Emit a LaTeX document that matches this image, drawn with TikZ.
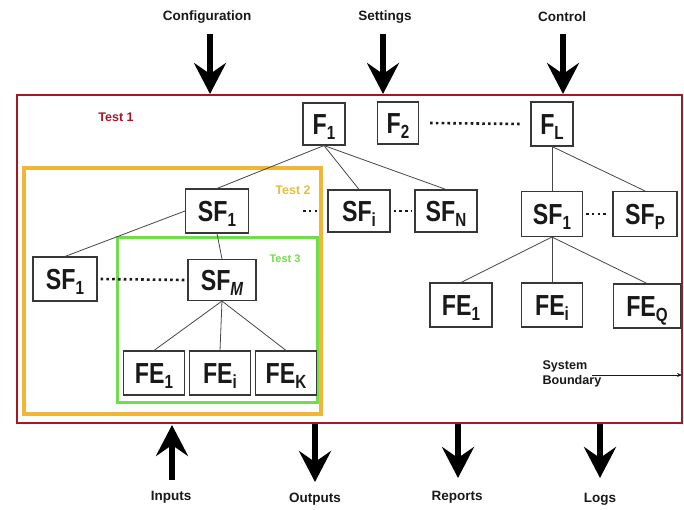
\documentclass[tikz,border=0pt]{standalone}
\usepackage{fontspec}
\setmainfont{Liberation Sans}
\newfontfamily\boxfont[FakeStretch=0.8]{Liberation Sans}
\usetikzlibrary{arrows.meta}

\definecolor{ink}{RGB}{25,25,25}
\definecolor{boxline}{RGB}{55,55,55}
\definecolor{linkgray}{RGB}{70,70,70}
\definecolor{sysred}{RGB}{168,22,36}
\definecolor{testorange}{RGB}{240,182,52}
\definecolor{testyellow}{RGB}{228,190,62}
\definecolor{testgreen}{RGB}{112,222,74}

% lowered index for the box labels
\newcommand\idx[1]{\raisebox{-5pt}{\fontsize{19}{19}\selectfont #1}}

\tikzset{
  fbox/.style={draw=boxline, line width=1.1pt, minimum height=42pt, inner sep=0pt,
    text height=21pt, text depth=0pt, text=ink,
    font=\boxfont\bfseries\fontsize{29}{29}\selectfont},
  link/.style={draw=linkgray, line width=0.8pt},
  dots/.style={draw=ink, line width=2.6pt, dash pattern=on 2.6pt off 3.2pt},
  bigarrow/.style={draw=black, line width=6.5pt,
    -{Stealth[length=31pt,width=32pt,inset=11pt]}},
  iolabel/.style={text=ink, font=\bfseries\fontsize{13.5}{14}\selectfont},
  testlabel/.style={font=\bfseries\fontsize{12.5}{13}\selectfont},
}

\begin{document}
\begin{tikzpicture}[x=1pt,y=-1pt]
\useasboundingbox (0,0) rectangle (684,510);

% system boundary and nested test scopes
\draw[sysred, line width=2.8pt] (17,95) rectangle (682,423);
\draw[testorange, line width=3.2pt] (24,168) rectangle (321,414);
\draw[testgreen, line width=3pt] (117,238) rectangle (317,402);

\node[testlabel, text=sysred] (t1) at (116,117) {Test 1};
\node[testlabel, text=testyellow] (t2) at (293,190) {Test 2};
\node[testlabel, text=testgreen, font=\bfseries\fontsize{11}{12}\selectfont] (t3) at (285,259) {Test 3};

% functions
\node[fbox, minimum width=42pt] (f1) at (324,124) {F\idx{1}};
\node[fbox, minimum width=41pt] (f2) at (398,123) {F\idx{2}};
\node[fbox, minimum width=42pt, minimum height=44pt] (fl) at (552,124) {F\idx{L}};

% sub-functions
\node[fbox, minimum width=63pt, minimum height=44pt] (sfa) at (217,211) {SF\idx{1}};
\node[fbox, minimum width=62pt] (sfi) at (359,211) {SF\idx{i}};
\node[fbox, minimum width=62pt] (sfn) at (446,211) {SF\idx{N}};
\node[fbox, minimum width=61pt, minimum height=45pt] (sfr) at (552,214) {SF\idx{1}};
\node[fbox, minimum width=64pt, minimum height=45pt] (sfp) at (645,214) {SF\idx{P}};
\node[fbox, minimum width=64pt, minimum height=44pt] (sfl) at (65,279) {SF\idx{1}};
\node[fbox, minimum width=68pt, minimum height=41pt] (sfm) at (222,280) {SF\idx{\itshape M}};

% functional elements
\node[fbox, minimum width=61pt, minimum height=44pt] (fea) at (154,373) {FE\idx{1}};
\node[fbox, minimum width=61pt, minimum height=44pt] (feb) at (220,373) {FE\idx{i}};
\node[fbox, minimum width=61pt, minimum height=44pt] (fec) at (286,373) {FE\idx{K}};
\node[fbox, minimum width=62pt, minimum height=44pt] (fra) at (461,305) {FE\idx{1}};
\node[fbox, minimum width=61pt, minimum height=44pt] (frb) at (552,305) {FE\idx{i}};
\node[fbox, minimum width=67pt, minimum height=44pt] (frc) at (647,306) {FE\idx{Q}};

% tree links
\draw[link] (f1.south) -- (sfa.north);
\draw[link] (f1.south) -- (sfi.north);
\draw[link] (f1.south) -- (sfn.north);
\draw[link] (fl.south) -- (sfr.north);
\draw[link] (fl.south) -- (sfp.north);
\draw[link] (sfa.west) -- (sfl.north);
\draw[link] (sfa.south) -- (sfm.north);
\draw[link] (sfm.south) -- (fea.north);
\draw[link] (sfm.south) -- (feb.north);
\draw[link] (sfm.south) -- (fec.north);
\draw[link] (sfr.south) -- (fra.north);
\draw[link] (sfr.south) -- (frb.north);
\draw[link] (sfr.south) -- (frc.north);

% elided siblings
\draw[dots] ([xshift=11pt]f2.east) -- ([xshift=-8pt]fl.west);
\draw[dots] ([xshift=54pt]sfa.east) -- ([xshift=-10pt]sfi.west);
\draw[dots] ([xshift=3pt]sfi.east) -- ([xshift=-2pt]sfn.west);
\draw[dots] ([xshift=3pt]sfr.east) -- ([xshift=-5pt]sfp.west);
\draw[dots] ([xshift=3pt]sfl.east) -- ([xshift=-3pt]sfm.west);

% system boundary callout
\node[text=ink, align=left, anchor=west, font=\bfseries\fontsize{12.6}{15.5}\selectfont]
  (sb) at (539,374) {System\\Boundary};
\coordinate (sbstart) at (592,375);
\coordinate (sbend) at (682,375);
\draw[ink, line width=0.9pt, -{Stealth[length=5pt,width=4pt]}] (sbstart) -- (sbend);

% external interfaces
\node[iolabel] (cfg) at (207,17) {Configuration};
\node[iolabel] (set) at (385,17) {Settings};
\node[iolabel] (ctl) at (562,17) {Control};
\node[iolabel] (inp) at (171,497) {Inputs};
\node[iolabel] (out) at (315,499) {Outputs};
\node[iolabel] (rep) at (457,497) {Reports};
\node[iolabel] (lgs) at (600,499) {Logs};

\coordinate (cfgtop) at (210,34);  \coordinate (cfgin) at (210,94);
\coordinate (settop) at (383,34);  \coordinate (setin) at (383,94);
\coordinate (ctltop) at (563,34);  \coordinate (ctlin) at (563,94);
\coordinate (inptail) at (172,480); \coordinate (inpin) at (172,425);
\coordinate (outsrc) at (315,424);  \coordinate (outtip) at (315,482);
\coordinate (repsrc) at (458,424);  \coordinate (reptip) at (458,478);
\coordinate (lgssrc) at (600,424);  \coordinate (lgstip) at (600,478);

\draw[bigarrow] (cfgtop) -- (cfgin);
\draw[bigarrow] (settop) -- (setin);
\draw[bigarrow] (ctltop) -- (ctlin);
\draw[bigarrow] (inptail) -- (inpin);
\draw[bigarrow] (outsrc) -- (outtip);
\draw[bigarrow] (repsrc) -- (reptip);
\draw[bigarrow] (lgssrc) -- (lgstip);
\end{tikzpicture}
\end{document}
